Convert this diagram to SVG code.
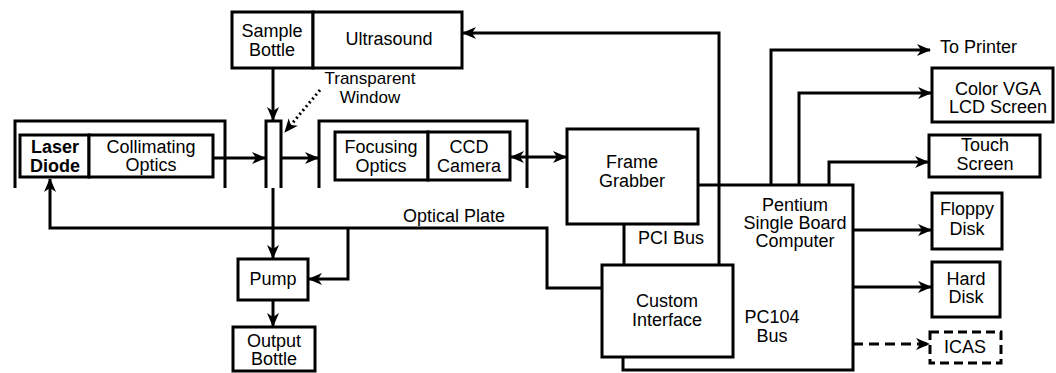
<svg xmlns="http://www.w3.org/2000/svg" width="1056" height="373" viewBox="0 0 1056 373">
<defs>
<style>
.b{fill:#fff;stroke:#000;stroke-width:3}
.l{fill:none;stroke:#000;stroke-width:3}
.t{font-family:"Liberation Sans",Arial,sans-serif;font-size:18px;fill:#000;text-anchor:middle}
.s{text-anchor:start}
.bold{font-weight:bold}
</style>
<marker id="a" markerWidth="14" markerHeight="12" refX="13" refY="6" orient="auto" markerUnits="userSpaceOnUse">
<path d="M0,0 L14,6 L0,12 L4,6 Z" fill="#000"/>
</marker>
<marker id="as" markerWidth="14" markerHeight="12" refX="1" refY="6" orient="auto" markerUnits="userSpaceOnUse">
<path d="M14,0 L0,6 L14,12 L10,6 Z" fill="#000"/>
</marker>
</defs>
<rect width="1056" height="373" fill="#fff"/>

<g id="connectors">
<path class="l" d="M273,68 V120" marker-end="url(#a)"/>
<path class="l" d="M320,90 L285,132" stroke-dasharray="2,3" marker-end="url(#a)"/>
<path class="l" d="M213,158 H265" marker-end="url(#a)"/>
<path class="l" d="M281,158 H318" marker-end="url(#a)"/>
<path class="l" d="M511,157 H566" marker-start="url(#as)" marker-end="url(#a)"/>
<path class="l" d="M719,185 V33 H463" marker-end="url(#a)"/>
<path class="l" d="M771,185 V50 H930" marker-end="url(#a)"/>
<path class="l" d="M799,185 V93 H931" marker-end="url(#a)"/>
<path class="l" d="M829,185 V162 H928" marker-end="url(#a)"/>
<path class="l" d="M853,230 H931" marker-end="url(#a)"/>
<path class="l" d="M853,287 H931" marker-end="url(#a)"/>
<path class="l" d="M853,344 H929" stroke-dasharray="10,6" marker-end="url(#a)"/>
<path class="l" d="M602,288 H547 V228 H50 V179" marker-end="url(#a)"/>
<path class="l" d="M348,228 V279 H309" marker-end="url(#a)"/>
<path class="l" d="M273,188 V258" marker-end="url(#a)"/>
<path class="l" d="M273,300 V326" marker-end="url(#a)"/>
<path class="l" d="M624,224 V265"/>
</g>

<g id="optical-plate-frame-left"><path class="l" d="M15,188 V121 H225 V188"/></g>
<g id="optical-plate-frame-right"><path class="l" d="M319,188 V121 H527 V188"/></g>
<g id="transparent-window"><path class="b" d="M266,188 V121 H281 V188"/></g>
<g id="transparent-window-label">
<text class="t" x="370" y="84" style="font-size:17px">Transparent</text>
<text class="t" x="370" y="103" style="font-size:17px">Window</text>
</g>

<g id="sample-bottle">
<rect class="b" x="232" y="12" width="81" height="56"/>
<text class="t" x="272" y="37">Sample</text>
<text class="t" x="272" y="56">Bottle</text>
</g>
<g id="ultrasound">
<rect class="b" x="313" y="12" width="149" height="56"/>
<text class="t" x="389" y="45">Ultrasound</text>
</g>

<g id="laser-diode">
<rect class="b" x="20" y="135" width="69" height="42"/>
<text class="t bold" x="55" y="153">Laser</text>
<text class="t bold" x="55" y="172">Diode</text>
</g>
<g id="collimating-optics">
<rect class="b" x="89" y="135" width="124" height="42"/>
<text class="t" x="151" y="153">Collimating</text>
<text class="t" x="151" y="171">Optics</text>
</g>

<g id="focusing-optics">
<rect class="b" x="335" y="132" width="93" height="48"/>
<text class="t" x="381" y="153">Focusing</text>
<text class="t" x="381" y="172">Optics</text>
</g>
<g id="ccd-camera">
<rect class="b" x="428" y="132" width="82" height="48"/>
<text class="t" x="469" y="153">CCD</text>
<text class="t" x="469" y="172">Camera</text>
</g>

<g id="frame-grabber">
<rect class="b" x="567" y="129" width="131" height="95"/>
<text class="t" x="632" y="168">Frame</text>
<text class="t" x="632" y="187">Grabber</text>
</g>

<g id="optical-plate-label"><text class="t s" x="403" y="222">Optical Plate</text></g>
<g id="pci-bus-label"><text class="t s" x="638" y="244">PCI Bus</text></g>

<g id="pentium">
<path class="l" d="M698,185 H853 V370 H623 V357"/>
<path class="l" d="M719,185 V265"/>
<text class="t" x="795" y="211">Pentium</text>
<text class="t" x="795" y="229">Single Board</text>
<text class="t" x="795" y="247">Computer</text>
<text class="t" x="772" y="323">PC104</text>
<text class="t" x="772" y="342">Bus</text>
</g>

<g id="custom-interface">
<rect class="b" x="602" y="265" width="131" height="92"/>
<text class="t" x="667" y="307">Custom</text>
<text class="t" x="667" y="326">Interface</text>
</g>

<g id="pump">
<rect class="b" x="238" y="259" width="70" height="41"/>
<text class="t" x="273" y="285">Pump</text>
</g>
<g id="output-bottle">
<rect class="b" x="233" y="327" width="82" height="44"/>
<text class="t" x="274" y="347">Output</text>
<text class="t" x="274" y="365">Bottle</text>
</g>

<g id="to-printer"><text class="t s" x="940" y="53">To Printer</text></g>
<g id="color-vga">
<rect class="b" x="932" y="68" width="121" height="54"/>
<text class="t" x="998" y="95">Color VGA</text>
<text class="t" x="998" y="113">LCD Screen</text>
</g>
<g id="touch-screen">
<rect class="b" x="929" y="135" width="111" height="42"/>
<text class="t" x="985" y="151">Touch</text>
<text class="t" x="985" y="170">Screen</text>
</g>
<g id="floppy-disk">
<rect class="b" x="932" y="193" width="70" height="56"/>
<text class="t" x="967" y="215">Floppy</text>
<text class="t" x="967" y="235">Disk</text>
</g>
<g id="hard-disk">
<rect class="b" x="932" y="262" width="68" height="55"/>
<text class="t" x="966" y="285">Hard</text>
<text class="t" x="966" y="303">Disk</text>
</g>
<g id="icas">
<rect class="b" x="930" y="332" width="71" height="31" stroke-dasharray="9,5"/>
<text class="t" x="965" y="353">ICAS</text>
</g>
</svg>
